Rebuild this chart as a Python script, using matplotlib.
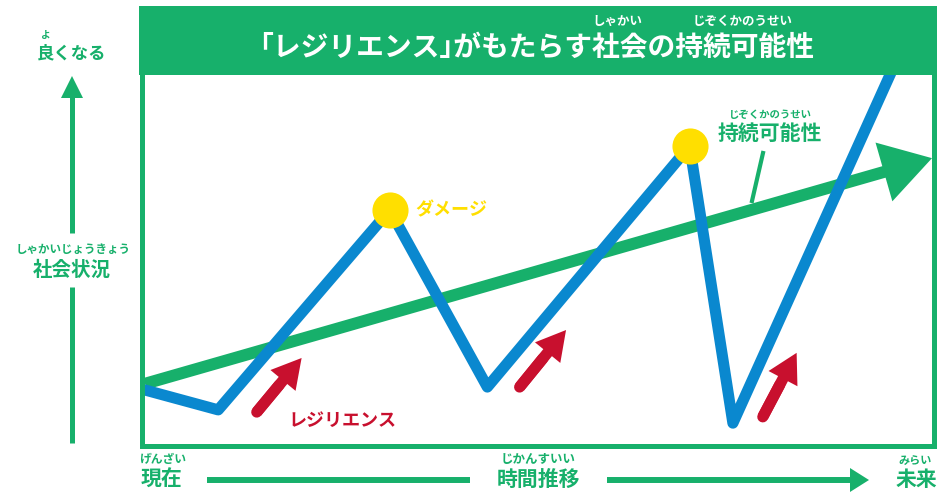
import numpy as np
import matplotlib.pyplot as plt
from matplotlib.patches import Rectangle, Polygon

plt.rcParams['font.family'] = ['Noto Sans CJK JP', 'DejaVu Sans']

GREEN = '#17B06B'
BLUE = '#0A88CF'
YELLOW = '#FFDF00'
RED = '#C8102E'

# social condition over time (0-100 scale inside the frame)
time_pts = [0, 9.3, 31.1, 43.5, 69.2, 74.7, 95.5]
condition = [14.4, 9.0, 63.3, 15.2, 80.7, 5.4, 104.0]
damage_idx = [2, 4]  # peaks hit by damage

# sustainability trend
trend_start = (0, 16.1)
trend_end = (100, 77.4)

# resilience (recovery) arrows: tail -> tip
res_tail_x = [14.2, 47.6, 78.5]
res_tail_y = [8.4, 15.2, 7.1]
res_tip_x = [19.9, 53.5, 82.8]
res_tip_y = [23.1, 30.7, 24.5]

W, H = 953, 492
fig = plt.figure(figsize=(W / 100, H / 100), dpi=100)

# decoration layer in pixel units
deco = fig.add_axes([0, 0, 1, 1])
deco.set_xlim(0, W)
deco.set_ylim(H, 0)
deco.axis('off')

# frame + title bar
deco.add_patch(Rectangle((142.5, 40), 792, 405.5, fill=False, ec=GREEN, lw=3.6))
deco.add_patch(Rectangle((139.5, 6), 797.5, 69, fc=GREEN, ec='none'))
deco.text(537, 47, '｢レジリエンス｣がもたらす社会の持続可能性', color='white',
          fontsize=20, fontweight='bold', ha='center', va='center')
deco.text(617, 21, 'しゃかい', color='white', fontsize=9, fontweight='bold', ha='center', va='center')
deco.text(743, 21, 'じぞくかのうせい', color='white', fontsize=9, fontweight='bold', ha='center', va='center')

# vertical axis arrow
deco.plot([72, 72], [96, 233], color=GREEN, lw=3.6, solid_capstyle='butt')
deco.plot([72, 72], [287, 443], color=GREEN, lw=3.6, solid_capstyle='butt')
deco.add_patch(Polygon([[72, 76], [61, 98], [83, 98]], fc=GREEN, ec='none'))
deco.text(72, 53, '良くなる', color=GREEN, fontsize=12.5, fontweight='bold', ha='center', va='center')
deco.text(46, 35, 'よ', color=GREEN, fontsize=7, fontweight='bold', ha='center', va='center')
deco.text(72, 270, '社会状況', color=GREEN, fontsize=14, fontweight='bold', ha='center', va='center')
deco.text(73, 249, 'しゃかいじょうきょう', color=GREEN, fontsize=8.3, fontweight='bold', ha='center', va='center')

# horizontal axis arrow
deco.plot([207, 470], [480, 480], color=GREEN, lw=4.3, solid_capstyle='butt')
deco.plot([607, 852], [480, 480], color=GREEN, lw=4.3, solid_capstyle='butt')
deco.add_patch(Polygon([[869, 480], [850, 468], [850, 492]], fc=GREEN, ec='none'))
deco.text(162, 479, '現在', color=GREEN, fontsize=15, fontweight='bold', ha='center', va='center')
deco.text(163, 460, 'げんざい', color=GREEN, fontsize=8.5, fontweight='bold', ha='center', va='center')
deco.text(538, 479, '時間推移', color=GREEN, fontsize=15, fontweight='bold', ha='center', va='center')
deco.text(538, 460, 'じかんすいい', color=GREEN, fontsize=9, fontweight='bold', ha='center', va='center')
deco.text(916, 479, '未来', color=GREEN, fontsize=15, fontweight='bold', ha='center', va='center')
deco.text(915, 460, 'みらい', color=GREEN, fontsize=8, fontweight='bold', ha='center', va='center')

# labels inside the frame
deco.text(415, 210, 'ダメージ', color=YELLOW, fontsize=13, fontweight='bold', ha='left', va='center')
deco.text(288, 420, 'レジリエンス', color=RED, fontsize=13, fontweight='bold', ha='left', va='center')
deco.text(718, 133, '持続可能性', color=GREEN, fontsize=15, fontweight='bold', ha='left', va='center')
deco.text(770, 115, 'じぞくかのうせい', color=GREEN, fontsize=7.5, fontweight='bold', ha='center', va='center')
deco.plot([763, 752], [153, 201], color=GREEN, lw=3)

# data layer inside the frame
ax = fig.add_axes([145 / W, (H - 443) / H, (932 - 145) / W, (443 - 75) / H])
ax.set_xlim(0, 100)
ax.set_ylim(0, 100)
ax.patch.set_alpha(0)
ax.axis('off')

ax.annotate('', xy=trend_end, xytext=trend_start,
            arrowprops=dict(arrowstyle='simple,head_length=3.6,head_width=4.4,tail_width=0.86',
                            mutation_scale=10, fc=GREEN, ec='none', shrinkA=0, shrinkB=0),
            zorder=2)

ax.plot(time_pts, condition, color=BLUE, lw=8, solid_joinstyle='round',
        solid_capstyle='round', zorder=3)

ax.plot([time_pts[i] for i in damage_idx], [condition[i] for i in damage_idx], 'o',
        color=YELLOW, ms=26, mec='none', zorder=4)

for tx, ty, hx, hy in zip(res_tail_x, res_tail_y, res_tip_x, res_tip_y):
    ax.annotate('', xy=(hx, hy), xytext=(tx, ty),
                arrowprops=dict(arrowstyle='simple,head_length=2.1,head_width=2.35,tail_width=0.8',
                                mutation_scale=10, fc=RED, ec='none', shrinkA=0, shrinkB=0),
                zorder=4)
    ax.plot([tx, (tx + hx) / 2], [ty, (ty + hy) / 2], color=RED, lw=8,
            solid_capstyle='round', zorder=4)

plt.savefig('out.png', dpi=100)
